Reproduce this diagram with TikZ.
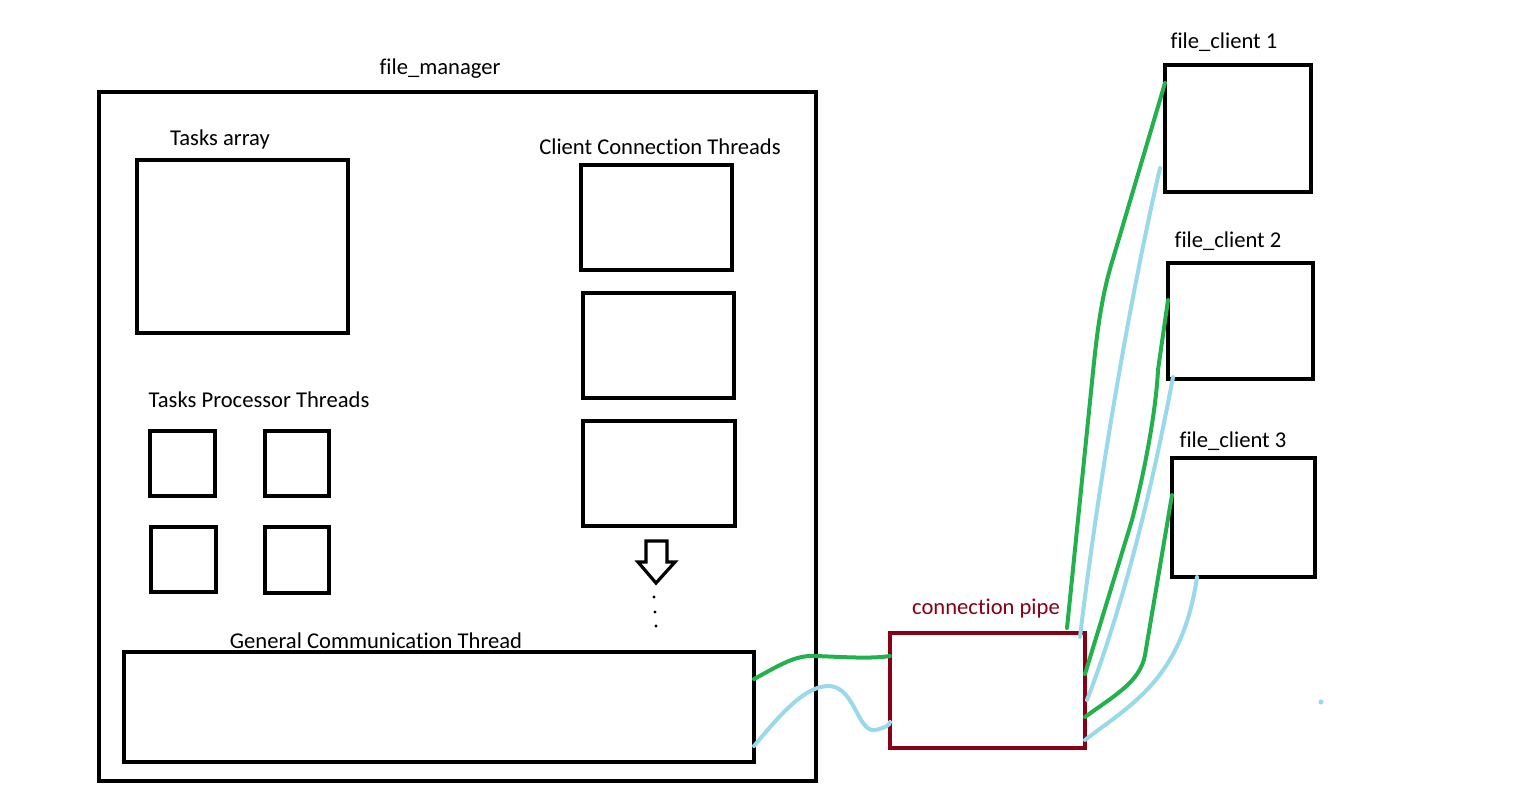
\documentclass[tikz,border=0pt]{standalone}
\usepackage{fontspec}
\setmainfont{Carlito}[Ligatures=NoCommon]
\begin{document}
\begin{tikzpicture}[x=0.5pt,y=-0.5pt,
  box/.style={draw=black,line width=2pt,inner sep=0pt,outer sep=0pt},
  pipebox/.style={draw=pipered,line width=2pt,inner sep=0pt,outer sep=0pt},
  lbl/.style={inner sep=0pt,anchor=base,font=\fontsize{11.3pt}{13pt}\selectfont},
  gwire/.style={draw=wgreen,line width=2pt,line cap=round},
  bwire/.style={draw=wblue,line width=2pt,line cap=round}]
\definecolor{wgreen}{HTML}{22B14C}
\definecolor{wblue}{HTML}{99D9EA}
\definecolor{pipered}{HTML}{880015}
\useasboundingbox[fill=white] (0,0) rectangle (1516,799);

% file_manager
\node[box,minimum width=717*0.5pt,minimum height=689*0.5pt] (fm) at (457.5,436.5) {};
\node[lbl] (fmL) at (440,74) {file\_manager};

\node[lbl] (taL) at (220,145) {Tasks array};
\node[box,minimum width=211*0.5pt,minimum height=173*0.5pt] (ta) at (242.5,246.5) {};

\node[lbl] (ccL) at (660,154) {Client Connection Threads};
\node[box,minimum width=151*0.5pt,minimum height=105*0.5pt] (cc1) at (656.5,217.5) {};
\node[box,minimum width=151*0.5pt,minimum height=105*0.5pt] (cc2) at (658.5,345.5) {};
\node[box,minimum width=152*0.5pt,minimum height=105*0.5pt] (cc3) at (659,473.5) {};

\node[lbl] (tpL) at (259,407) {Tasks Processor Threads};
\node[box,minimum width=65*0.5pt,minimum height=65*0.5pt] (tp1) at (182.5,463.5) {};
\node[box,minimum width=64*0.5pt,minimum height=65*0.5pt] (tp2) at (297,463.5) {};
\node[box,minimum width=65*0.5pt,minimum height=65*0.5pt] (tp3) at (183.5,559.5) {};
\node[box,minimum width=64*0.5pt,minimum height=66*0.5pt] (tp4) at (297,560) {};

% hollow arrow and dots
\draw[line width=1.6pt,line join=miter] (646,541) -- (667,541) -- (667,562) -- (675,562) -- (656,583) -- (638,562) -- (646,562) -- cycle;
\fill (654,597) circle (1.6);
\fill (655,612) circle (1.6);
\fill (656,626) circle (1.6);

\node[lbl] (gcL) at (376,648) {General Communication Thread};
\node[box,minimum width=630*0.5pt,minimum height=110*0.5pt] (gc) at (439,707) {};

% connection pipe
\node[lbl,text=pipered] (cpL) at (986,614) {connection pipe};
\node[pipebox,minimum width=195*0.5pt,minimum height=115*0.5pt] (cp) at (987.5,690.5) {};

% clients
\node[lbl] (c1L) at (1224,48) {file\_client 1};
\node[box,minimum width=146*0.5pt,minimum height=127*0.5pt] (c1) at (1238,128.5) {};
\node[lbl] (c2L) at (1228,247) {file\_client 2};
\node[box,minimum width=145*0.5pt,minimum height=116*0.5pt] (c2) at (1240.5,321) {};
\node[lbl] (c3L) at (1233,447) {file\_client 3};
\node[box,minimum width=143*0.5pt,minimum height=119*0.5pt] (c3) at (1243.5,517.5) {};

% wire end points
\coordinate (gcG) at (gc.east |- 0,679);
\coordinate (gcB) at (gc.east |- 0,746);
\coordinate (cpGl) at (cp.west |- 0,656);
\coordinate (cpBl) at (cp.west |- 0,722);
\coordinate (cpG1) at (1067,628);
\coordinate (cpB1) at (1080,637);
\coordinate (cpG2) at (cp.east |- 0,674);
\coordinate (cpB2) at (1087,700);
\coordinate (cpG3) at (cp.east |- 0,717);
\coordinate (cpB3) at (cp.east |- 0,740);
\coordinate (c1G) at (c1.west |- 0,83);
\coordinate (c1B) at (1160,168);
\coordinate (c2G) at (c2.west |- 0,300);
\coordinate (c2B) at (1173,377);
\coordinate (c3G) at (c3.west |- 0,495);
\coordinate (c3B) at (1197,577);

% wires manager <-> pipe
\draw[gwire] (gcG) .. controls (780,665) and (795,655) .. (815,656) .. controls (845,657) and (870,659) .. (cpGl);
\draw[bwire] (gcB) .. controls (780,715) and (805,685) .. (830,686) .. controls (855,688) and (858,733) .. (875,730) .. controls (885,728) and (890,725) .. (cpBl);

% wires pipe <-> clients
\draw[gwire] (cpG1) -- (1093,372) .. controls (1098,322) and (1103,292) .. (1112,262) -- (c1G);
\draw[bwire] (cpB1) .. controls (1095,510) and (1125,320) .. (c1B);
\draw[gwire] (cpG2) -- (1132,520) .. controls (1145,470) and (1156,410) .. (1158,370) -- (c2G);
\draw[bwire] (cpB2) .. controls (1118,620) and (1148,510) .. (c2B);
\draw[gwire] (cpG3) .. controls (1115,695) and (1140,682) .. (1145,655) -- (c3G);
\draw[bwire] (cpB3) .. controls (1130,705) and (1182,680) .. (c3B);

\fill[wblue] (1321,702) circle (2.5);
\end{tikzpicture}
\end{document}
